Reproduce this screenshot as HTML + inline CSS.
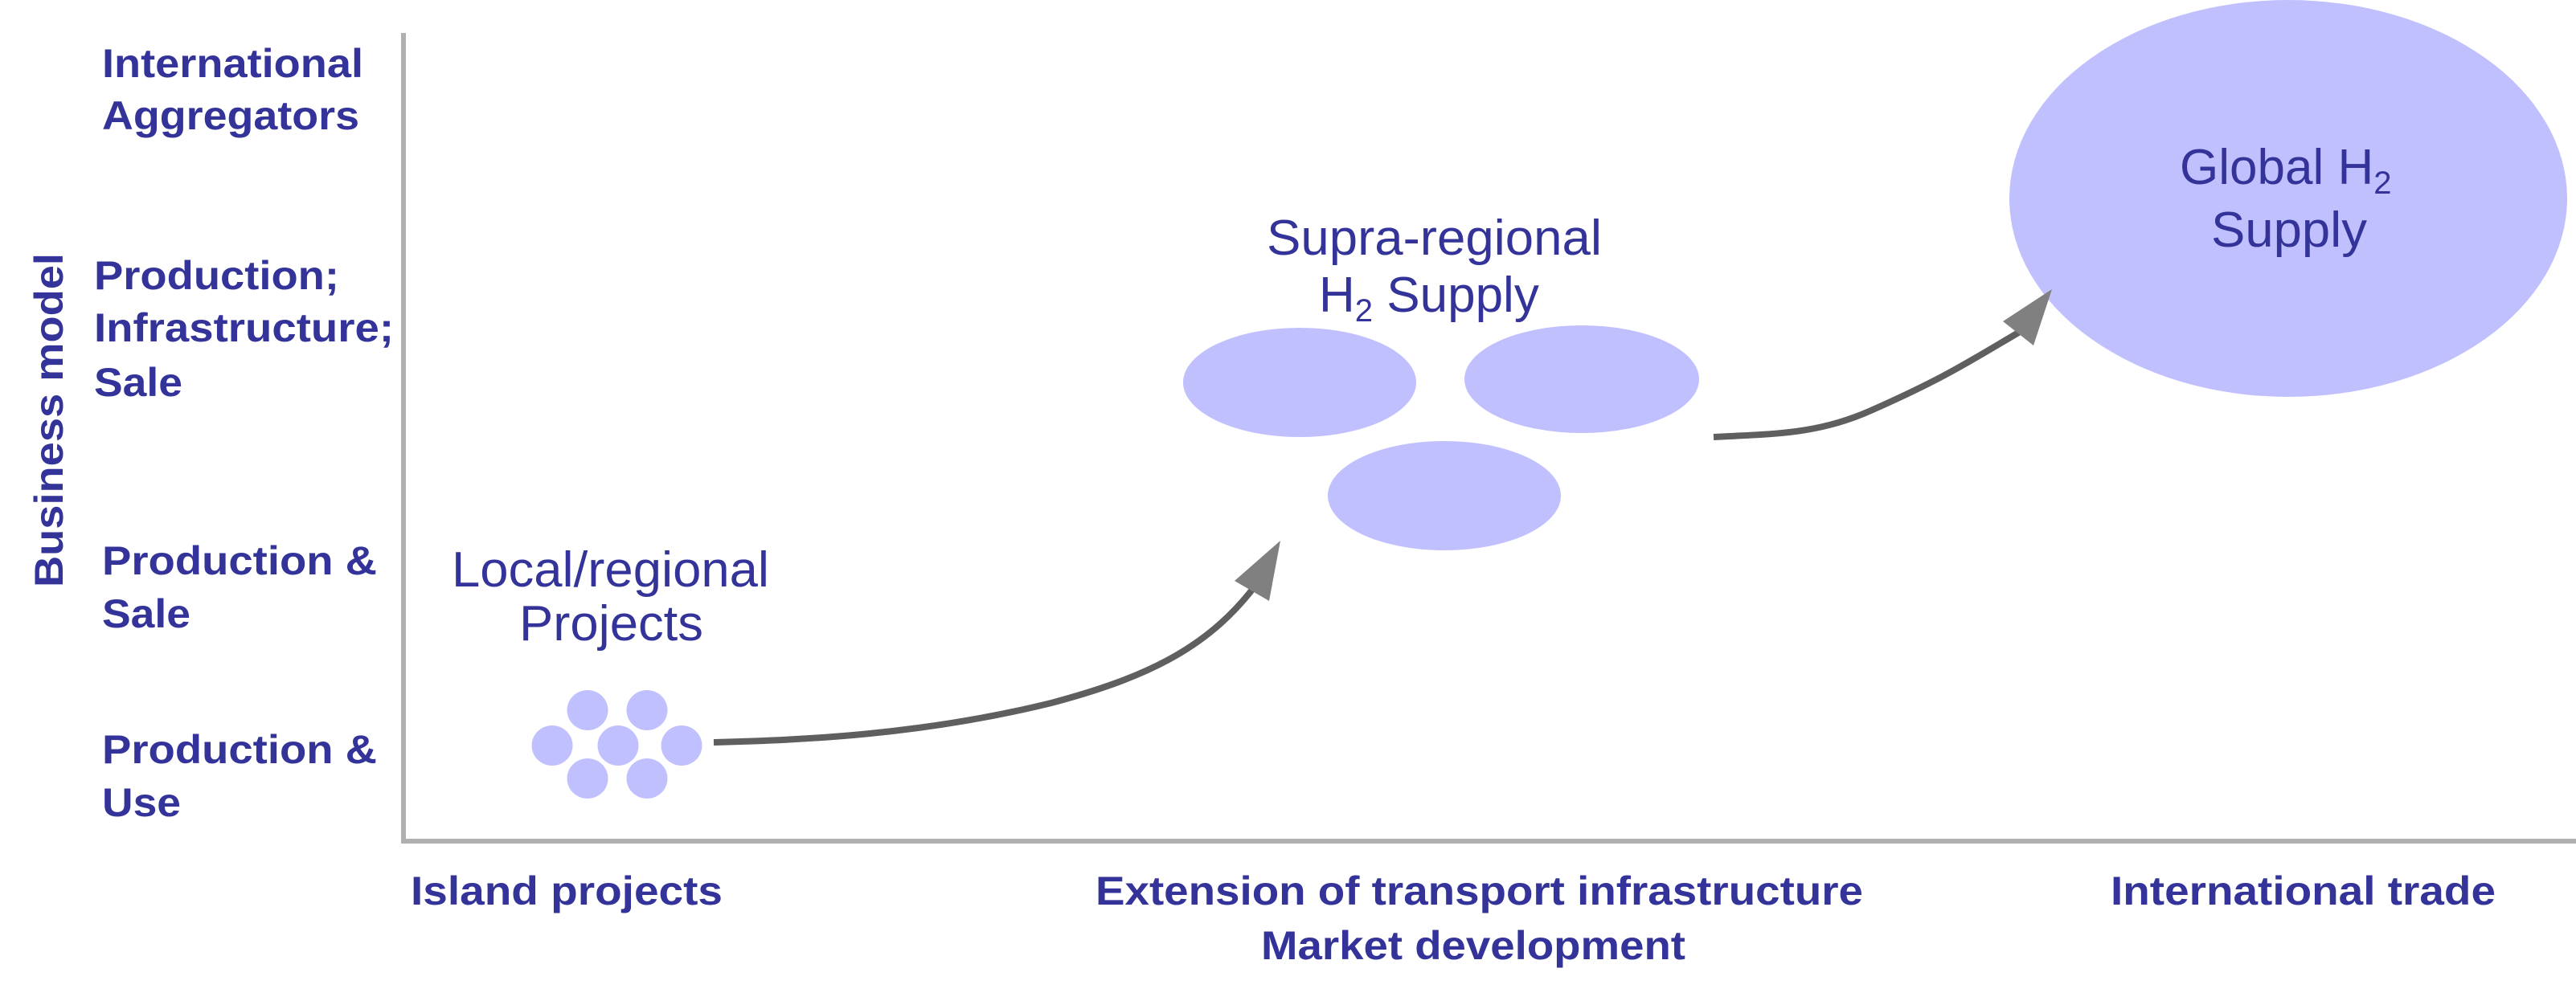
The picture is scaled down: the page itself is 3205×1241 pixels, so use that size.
<!DOCTYPE html>
<html><head><meta charset="utf-8"><style>html,body{margin:0;padding:0;background:#fff}svg{display:block}</style></head>
<body>
<svg width="3205" height="1241" viewBox="0 0 3205 1241" xmlns="http://www.w3.org/2000/svg">
<g fill="#c0c0ff">
<ellipse cx="2847" cy="247" rx="347" ry="247"/>
<ellipse cx="1617" cy="476" rx="145" ry="68"/>
<ellipse cx="1968" cy="472" rx="146" ry="67"/>
<ellipse cx="1797" cy="617" rx="145" ry="68"/>
<ellipse cx="731" cy="884" rx="25.5" ry="25"/>
<ellipse cx="805" cy="884" rx="25.5" ry="25"/>
<ellipse cx="687" cy="928" rx="25.5" ry="25"/>
<ellipse cx="769" cy="928" rx="25.5" ry="25"/>
<ellipse cx="848" cy="928" rx="25.5" ry="25"/>
<ellipse cx="731" cy="969" rx="25.5" ry="25"/>
<ellipse cx="805" cy="969" rx="25.5" ry="25"/>
</g>
<g stroke="#b0b0b0" stroke-width="6" fill="none">
<line x1="502" y1="41" x2="502" y2="1050"/>
<line x1="499" y1="1047" x2="3205" y2="1047"/>
</g>
<g stroke="#5f5f5f" stroke-width="8" fill="none">
<path d="M888,924 C1000,921 1145,915 1308,875 C1420,845 1500,810 1561,730"/>
<path d="M2132,544 C2200,540 2260,542 2330,510 C2420,470 2450,450 2513,413"/>
</g>
<g fill="#808080">
<polygon points="1593,673 1536,723 1579,748"/>
<polygon points="2553,360 2492,400 2530,430"/>
</g>
<g font-family="Liberation Sans, Arial, sans-serif" font-weight="bold" fill="#333399" font-size="50">
<text transform="translate(78,731) rotate(-90)" textLength="416" lengthAdjust="spacingAndGlyphs">Business model</text>
<text x="127" y="96" textLength="325" lengthAdjust="spacingAndGlyphs">International</text>
<text x="127" y="161" textLength="320" lengthAdjust="spacingAndGlyphs">Aggregators</text>
<text x="117" y="360" textLength="305" lengthAdjust="spacingAndGlyphs">Production;</text>
<text x="117" y="425" textLength="373" lengthAdjust="spacingAndGlyphs">Infrastructure;</text>
<text x="117" y="493" textLength="110" lengthAdjust="spacingAndGlyphs">Sale</text>
<text x="127" y="715" textLength="342" lengthAdjust="spacingAndGlyphs">Production &amp;</text>
<text x="127" y="781" textLength="110" lengthAdjust="spacingAndGlyphs">Sale</text>
<text x="127" y="950" textLength="342" lengthAdjust="spacingAndGlyphs">Production &amp;</text>
<text x="127" y="1016" textLength="98" lengthAdjust="spacingAndGlyphs">Use</text>
<text x="511" y="1126" textLength="388" lengthAdjust="spacingAndGlyphs">Island projects</text>
<text x="1363" y="1126" textLength="955" lengthAdjust="spacingAndGlyphs">Extension of transport infrastructure</text>
<text x="1569" y="1194" textLength="528" lengthAdjust="spacingAndGlyphs">Market development</text>
<text x="2626" y="1126" textLength="479" lengthAdjust="spacingAndGlyphs">International trade</text>
</g>
<g font-family="Liberation Sans, Arial, sans-serif" fill="#333399" font-size="62">
<text x="562" y="730" textLength="395" lengthAdjust="spacingAndGlyphs">Local/regional</text>
<text x="646" y="797" textLength="229" lengthAdjust="spacingAndGlyphs">Projects</text>
<text x="1576" y="317" textLength="417" lengthAdjust="spacingAndGlyphs">Supra-regional</text>
<text x="1641" y="388">H<tspan font-size="40" dy="12">2</tspan><tspan dy="-12"> Supply</tspan></text>
<text x="2712" y="229">Global H<tspan font-size="40" dy="12">2</tspan></text>
<text x="2751" y="307" textLength="194" lengthAdjust="spacingAndGlyphs">Supply</text>
</g>
</svg>
</body></html>
